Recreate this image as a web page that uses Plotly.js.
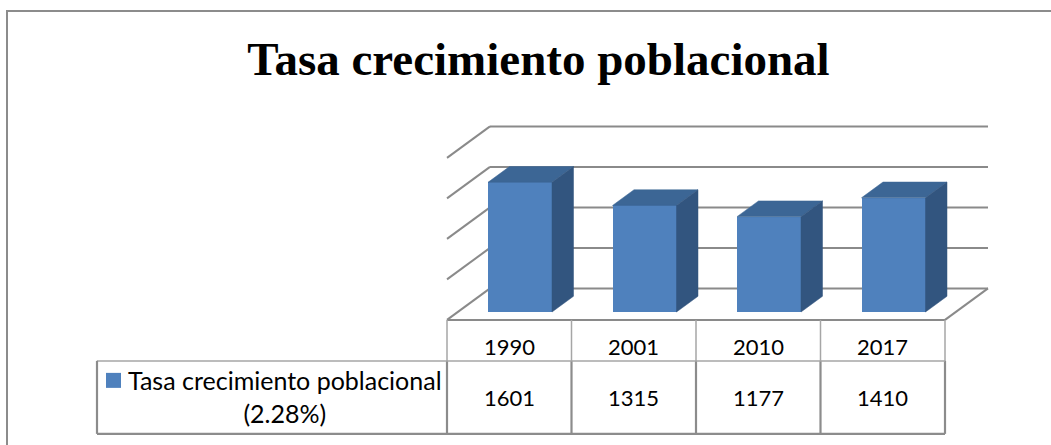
<!DOCTYPE html>
<html><head><meta charset="utf-8">
<script src="https://cdn.plot.ly/plotly-3.0.1.min.js"></script>
<style>
html,body{margin:0;padding:0;background:#fff;overflow:hidden}
#wrap{position:relative;width:1051px;height:445px;overflow:hidden}
#chart{width:1051px;height:445px}
#frame{position:absolute;left:6px;top:10px;width:1100px;height:520px;border:2px solid #8c8c8c;pointer-events:none;box-sizing:border-box}
</style></head><body>
<div id="wrap"><div id="chart"></div><div id="frame"></div></div>
<script>
// ---- data ----
const categories = ['1990', '2001', '2010', '2017'];
const values = [1601, 1315, 1177, 1410];
const seriesName = 'Tasa crecimiento poblacional';
const seriesNote = '(2.28%)';
const gridValues = [0, 500, 1000, 1500, 2000];
const chartTitle = 'Tasa crecimiento poblacional';

// ---- oblique projection (layout geometry) ----
const CAT_PX = 124.5;          // pixels per category slot
const VAL_PX = 0.081;          // pixels per value unit
const KX = 43 / CAT_PX;        // depth shift in x-axis units
const KY = 31.5 / VAL_PX;      // depth shift in y-axis units
const FRONT_D = 0.25, BACK_D = 0.75;
const BAR_W = 64 / CAT_PX;
const ORIGIN_X = 520, ORIGIN_Y = 312;   // pixel of axis point (0,0)
const M = {l: 90, r: 51, t: 100, b: 5};
const W = 1051, H = 445;

function P(u, d, v) { return [u - 0.5 + (d - FRONT_D) * KX, v + (d - FRONT_D) * KY]; }

const xRange = [(M.l - ORIGIN_X) / CAT_PX, (W - M.r - ORIGIN_X) / CAT_PX];
const yRange = [(ORIGIN_Y - (H - M.b)) / VAL_PX, (ORIGIN_Y - M.t) / VAL_PX];

const C_FRONT = '#4F81BD', C_TOP = '#3C6695', C_SIDE = '#32557F';
const GRID = {color: '#8a8a8a', width: 2};
const TBL_LIGHT = {color: '#a6a6a6', width: 1.5};
const TBL_DARK = {color: '#8c8c8c', width: 2.2};

const shapes = [];
function seg(a, b, line) {
  shapes.push({type: 'line', xref: 'x', yref: 'y', layer: 'below',
    x0: a[0], y0: a[1], x1: b[0], y1: b[1], line: line});
}
const nCat = categories.length;
// walls: back-wall gridlines + left-wall diagonals
gridValues.forEach(g => {
  seg(P(0, 1, g), P(nCat, 1, g), GRID);
  seg(P(0, 1, g), P(0, 0, g), GRID);
});
// floor front and right edges
seg(P(0, 0, 0), P(nCat, 0, 0), GRID);
seg(P(nCat, 0, 0), P(nCat, 1, 0), GRID);

// ---- data table ----
const yFront = P(0, 0, 0)[1];
const yRow1 = yFront - 41 / VAL_PX;
const yRow2 = yRow1 - 73 / VAL_PX;
const xb = u => P(u, 0, 0)[0];
const LEG_U = -350 / CAT_PX;
for (let u = 0; u <= nCat; u++) {
  seg([xb(u), yFront], [xb(u), yRow1], TBL_LIGHT);
  seg([xb(u), yRow1], [xb(u), yRow2], TBL_DARK);
}
seg([xb(LEG_U), yRow1], [xb(nCat), yRow1], TBL_LIGHT);
seg([xb(LEG_U), yRow2], [xb(nCat), yRow2], TBL_DARK);
seg([xb(LEG_U), yRow1], [xb(LEG_U), yRow2], TBL_DARK);
// legend key
shapes.push({type: 'rect', xref: 'x', yref: 'y', layer: 'above',
  x0: xb(-341 / CAT_PX), x1: xb(-326 / CAT_PX),
  y0: yRow1 - 12 / VAL_PX, y1: yRow1 - 27 / VAL_PX,
  fillcolor: C_FRONT, line: {width: 0}});

const FONT = {family: 'Lato, "Open Sans", sans-serif', size: 22, color: '#000'};
const LEG_FONT = {family: 'Lato, "Open Sans", sans-serif', size: 25, color: '#000'};
const annotations = [];
categories.forEach((c, i) => {
  annotations.push({xref: 'x', yref: 'y', x: xb(i + 0.5), y: (yFront + yRow1) / 2, yshift: -6,
    text: c, showarrow: false, font: FONT, xanchor: 'center', yanchor: 'middle'});
  annotations.push({xref: 'x', yref: 'y', x: xb(i + 0.5), y: (yRow1 + yRow2) / 2,
    text: String(values[i]), showarrow: false, font: FONT, xanchor: 'center', yanchor: 'middle'});
});
annotations.push({xref: 'x', yref: 'y', x: xb(-162.5 / CAT_PX), y: (yRow1 + yRow2) / 2, yshift: 1,
  text: seriesName + '<br>' + seriesNote, showarrow: false, font: LEG_FONT,
  xanchor: 'center', yanchor: 'middle', align: 'center'});

// ---- bars ----
const traces = [];
traces.push({type: 'bar', x: categories.map((c, i) => i), y: values, width: BAR_W,
  marker: {color: C_FRONT, line: {width: 0}}, hoverinfo: 'skip', showlegend: false});
values.forEach((v, i) => {
  const l = i + 0.5 - BAR_W / 2, r = i + 0.5 + BAR_W / 2;
  const top = [P(l, FRONT_D, v), P(r, FRONT_D, v), P(r, BACK_D, v), P(l, BACK_D, v), P(l, FRONT_D, v)];
  const side = [P(r, FRONT_D, 0), P(r, FRONT_D, v), P(r, BACK_D, v), P(r, BACK_D, 0), P(r, FRONT_D, 0)];
  [[top, C_TOP], [side, C_SIDE]].forEach(([poly, col]) => {
    traces.push({type: 'scatter', mode: 'lines', fill: 'toself', fillcolor: col,
      x: poly.map(p => p[0]), y: poly.map(p => p[1]),
      line: {color: col, width: 0.5}, hoverinfo: 'skip', showlegend: false});
  });
});

const layout = {
  width: W, height: H, margin: M,
  paper_bgcolor: '#fff', plot_bgcolor: 'rgba(0,0,0,0)',
  title: {text: '<b>' + chartTitle + '</b>', x: 538.5 / W, xref: 'container', xanchor: 'center',
    y: 1 - 58.5 / H, yref: 'container', yanchor: 'middle',
    font: {family: '"Liberation Serif", "Times New Roman", serif', size: 47, color: '#000'}},
  xaxis: {range: xRange, visible: false, fixedrange: true},
  yaxis: {range: yRange, visible: false, fixedrange: true},
  showlegend: false, shapes: shapes, annotations: annotations, bargap: 0
};
Plotly.newPlot('chart', traces, layout, {displayModeBar: false, staticPlot: true});
</script></body></html>
